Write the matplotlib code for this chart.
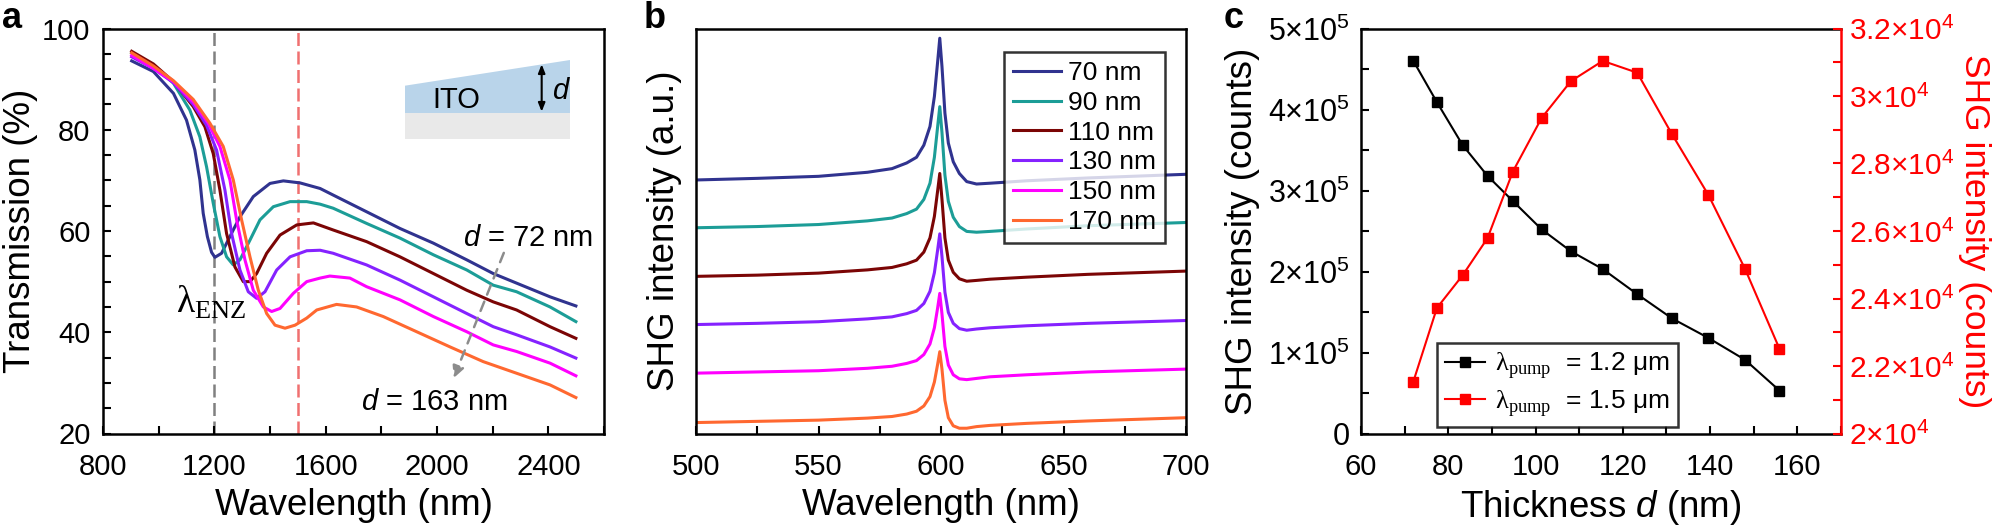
import matplotlib
matplotlib.use("Agg")
import matplotlib.pyplot as plt
from matplotlib.ticker import MultipleLocator, FuncFormatter
from matplotlib.patches import Polygon, Rectangle

plt.rcParams['font.family'] = ['Liberation Sans', 'DejaVu Sans']
plt.rcParams['mathtext.fontset'] = 'custom'
plt.rcParams['mathtext.rm'] = 'Liberation Serif'
plt.rcParams['mathtext.it'] = 'Liberation Sans:italic'
plt.rcParams['mathtext.default'] = 'regular'

# ---------------- data: panel a (transmission) ----------------
a_labels = ['72 nm', '90 nm', '110 nm', '130 nm', '150 nm', '163 nm']
a_x1 = [903, 981, 1053, 1100, 1130, 1148, 1160, 1175, 1190, 1202, 1226, 1256, 1292, 1340, 1400, 1448,
        1508, 1580, 1627, 1747, 1867, 1987, 2107, 2202, 2286, 2406, 2499]
a_y1 = [93.6, 91.5, 87.2, 81.9, 76.0, 70.1, 63.5, 58.9, 55.8, 54.8, 55.6, 58.9, 62.8, 66.8, 69.4, 69.9,
        69.5, 68.4, 67.1, 63.8, 60.5, 57.6, 54.3, 51.6, 49.7, 47.0, 45.2]
a_x2 = [903, 981, 1053, 1112, 1148, 1172, 1196, 1220, 1244, 1268, 1292, 1328, 1364, 1412, 1472, 1532,
        1580, 1627, 1747, 1867, 1987, 2107, 2202, 2286, 2406, 2499]
a_y2 = [95.2, 92.8, 89.2, 83.9, 78.6, 72.7, 65.5, 58.9, 54.9, 53.3, 54.3, 58.2, 62.2, 64.8, 65.8, 65.8,
        65.3, 64.5, 61.5, 58.6, 55.3, 52.3, 49.3, 48.0, 45.0, 42.1]
a_x3 = [903, 981, 1053, 1124, 1166, 1196, 1220, 1244, 1274, 1304, 1328, 1352, 1388, 1436, 1496, 1556,
        1627, 1747, 1867, 1987, 2107, 2202, 2286, 2406, 2499]
a_y3 = [95.5, 93.0, 89.5, 84.6, 80.6, 75.3, 68.1, 59.5, 52.9, 50.0, 50.0, 51.6, 55.6, 59.2, 61.2, 61.6,
        60.2, 57.9, 54.9, 51.6, 48.3, 46.0, 44.4, 41.1, 38.8]
a_x4 = [903, 981, 1053, 1124, 1172, 1208, 1238, 1262, 1292, 1322, 1352, 1382, 1424, 1472, 1532, 1580,
        1627, 1747, 1867, 1987, 2107, 2202, 2286, 2406, 2499]
a_y4 = [94.4, 92.1, 89.3, 85.0, 80.9, 76.0, 68.1, 59.5, 52.3, 48.0, 46.7, 48.0, 52.3, 54.9, 56.1, 56.2,
        55.6, 53.3, 50.3, 47.0, 43.7, 41.1, 39.5, 37.1, 34.9]
a_x5 = [903, 981, 1053, 1124, 1178, 1220, 1256, 1280, 1310, 1340, 1376, 1406, 1436, 1484, 1532, 1580,
        1615, 1687, 1747, 1867, 1987, 2107, 2202, 2286, 2406, 2499]
a_y5 = [94.7, 92.1, 89.5, 85.5, 81.3, 76.7, 70.1, 62.2, 54.3, 48.3, 45.0, 44.1, 44.7, 47.7, 50.0, 50.7,
        51.1, 50.7, 49.0, 46.4, 43.1, 40.1, 37.5, 36.2, 33.9, 31.4]
a_x6 = [903, 981, 1053, 1124, 1184, 1232, 1268, 1298, 1328, 1358, 1388, 1418, 1454, 1490, 1532, 1568,
        1639, 1711, 1807, 1927, 2047, 2166, 2286, 2406, 2499]
a_y6 = [95.2, 92.6, 89.7, 86.0, 81.3, 76.7, 70.1, 62.2, 54.9, 48.3, 43.7, 41.4, 40.8, 41.4, 42.8, 44.4,
        45.5, 45.0, 43.1, 40.1, 37.1, 34.2, 31.9, 29.6, 27.1]
lambda_enz = 1200
lambda_pump2 = 1500

# ---------------- data: panel b (SHG spectra, offset) ----------------
b_labels = ['70 nm', '90 nm', '110 nm', '130 nm', '150 nm', '170 nm']
b_wl = [500, 525, 550, 570, 580, 586, 590, 593, 595.5, 597.3, 598.6, 599.5, 600.4, 601.6, 603, 605,
        607.5, 610.5, 614.5, 620, 635, 660, 700]
b_70 = [62.6, 63.0, 63.5, 64.5, 65.4, 66.8, 68.2, 71.2, 75.8, 83.2, 91.6, 97.6, 90.6, 79.1, 71.7, 67.1,
        64.2, 62.2, 61.6, 61.8, 62.4, 63.1, 64.0]
b_90 = [50.8, 51.1, 51.6, 52.5, 53.2, 54.3, 55.4, 57.8, 61.8, 68.2, 75.6, 80.7, 74.3, 63.8, 57.3, 53.4,
        51.1, 49.9, 49.7, 49.9, 50.5, 51.3, 52.1]
b_110 = [38.8, 39.1, 39.6, 40.4, 41.0, 41.9, 42.8, 44.8, 48.3, 53.6, 59.8, 64.2, 57.8, 48.3, 42.8, 39.8,
         38.2, 37.6, 37.8, 38.1, 38.6, 39.3, 40.1]
b_130 = [26.9, 27.2, 27.6, 28.3, 28.8, 29.6, 30.4, 32.1, 35.1, 39.7, 45.2, 49.3, 43.7, 34.9, 29.9, 27.2,
         25.9, 25.5, 25.8, 26.1, 26.6, 27.2, 27.9]
b_150 = [14.9, 15.2, 15.5, 16.1, 16.6, 17.3, 18.0, 19.5, 22.1, 26.1, 30.9, 34.6, 29.5, 21.5, 16.9, 14.5,
         13.5, 13.3, 13.6, 14.0, 14.5, 15.2, 15.9]
b_170 = [2.7, 3.0, 3.3, 3.8, 4.2, 4.8, 5.5, 6.8, 9.1, 12.7, 17.0, 20.2, 15.9, 8.2, 3.9, 1.9,
         1.3, 1.3, 1.7, 2.0, 2.5, 3.1, 3.9]

# ---------------- data: panel c (SHG vs thickness) ----------------
c_thick = [72, 77.4, 83.3, 89.0, 94.8, 101.4, 108.1, 115.4, 123.3, 131.3, 139.6, 148.0, 155.9]
c_shg12 = [4.60e5, 4.09e5, 3.56e5, 3.18e5, 2.87e5, 2.52e5, 2.25e5, 2.03e5, 1.72e5, 1.42e5, 1.18e5,
           0.91e5, 0.53e5]
c_shg15 = [2.154e4, 2.372e4, 2.469e4, 2.579e4, 2.776e4, 2.935e4, 3.044e4, 3.104e4, 3.069e4, 2.886e4,
           2.707e4, 2.488e4, 2.251e4]
c_labels = [r'$\mathrm{\lambda}_{\mathrm{pump}}$  = 1.2 μm', r'$\mathrm{\lambda}_{\mathrm{pump}}$  = 1.5 μm']

colors = ['#30338f', '#1c9d97', '#7b0505', '#8522ff', '#ff00ff', '#ff6830']

TICK_FS = 21
LABEL_FS = 26.5
LW_SPINE = 1.8

fig = plt.figure(figsize=(19.95, 5.25), dpi=100)
H0 = 525.0
W0 = 1995.0
def rect(x0, x1, y0=28.5, y1=433.5):
    return [x0 / W0, (H0 - y1) / H0, (x1 - x0) / W0, (y1 - y0) / H0]

axa = fig.add_axes(rect(103, 604))
axb = fig.add_axes(rect(696, 1186))
axc = fig.add_axes(rect(1361, 1841))

def style(ax, xpad=14, ypad=9, fs=TICK_FS):
    for s in ax.spines.values():
        s.set_linewidth(LW_SPINE)
    ax.tick_params(which='both', direction='in', width=1.5, labelsize=fs)
    ax.tick_params(which='major', length=6)
    ax.tick_params(which='minor', length=6)
    ax.tick_params(axis='x', pad=xpad)
    ax.tick_params(axis='y', pad=ypad)

# ---------- panel a ----------
style(axa)
ax_series = [(a_x1, a_y1), (a_x2, a_y2), (a_x3, a_y3), (a_x4, a_y4), (a_x5, a_y5), (a_x6, a_y6)]
for (xs, ys), c in zip(ax_series, colors):
    axa.plot(xs, ys, color=c, lw=2.2)
axa.axvline(lambda_enz, color='#808080', lw=1.8, ls=(0, (5.2, 2.2)), zorder=0)
axa.axvline(lambda_pump2, color='#f07070', lw=1.8, ls=(0, (5.2, 2.2)), zorder=0)
axa.set_xlim(800, 2600)
axa.set_ylim(20, 100)
axa.xaxis.set_major_locator(MultipleLocator(400))
axa.xaxis.set_minor_locator(MultipleLocator(200))
axa.yaxis.set_major_locator(MultipleLocator(20))
axa.yaxis.set_minor_locator(MultipleLocator(5))
axa.set_xlabel('Wavelength (nm)', fontsize=LABEL_FS, labelpad=5)
axa.set_ylabel('Transmission (%)', fontsize=LABEL_FS, labelpad=3)
axa.text(0.146, 0.2975, r'$\mathrm{\lambda}_{\mathrm{ENZ}}$', transform=axa.transAxes, fontsize=27,
         ha='left', va='baseline')
axa.text(0.978, 0.463, r'$\mathit{d}$ = 72 nm', transform=axa.transAxes, fontsize=21,
         ha='right', va='baseline')
axa.text(0.515, 0.058, r'$\mathit{d}$ = 163 nm', transform=axa.transAxes, fontsize=21,
         ha='left', va='baseline')
axa.annotate('', xy=(0.700, 0.137), xytext=(0.800, 0.446), xycoords='axes fraction',
             arrowprops=dict(arrowstyle='-|>,head_length=0.7,head_width=0.35', color='#8c8c8c',
                             lw=1.8, ls=(0, (4, 3)), shrinkA=0, shrinkB=0))
# ITO schematic
axa.add_patch(Polygon([(0.6028, 0.7906), (0.9321, 0.7906), (0.9321, 0.9222), (0.6028, 0.8588)],
                      closed=True, transform=axa.transAxes, facecolor='#b9d4ea', edgecolor='none'))
axa.add_patch(Rectangle((0.6028, 0.7264), 0.3293, 0.0642, transform=axa.transAxes,
                        facecolor='#e9e9e9', edgecolor='none'))
axa.text(0.7046, 0.823, 'ITO', transform=axa.transAxes, fontsize=21, ha='center', va='center')
axa.annotate('', xy=(0.8756, 0.7946), xytext=(0.8756, 0.9116), xycoords='axes fraction',
             arrowprops=dict(arrowstyle='<|-|>,head_length=0.5,head_width=0.2', color='black', lw=1.5,
                             shrinkA=0, shrinkB=0))
axa.text(0.8956, 0.845, r'$\mathit{d}$', transform=axa.transAxes, fontsize=21, ha='left', va='center')

# ---------- panel b ----------
style(axb)
b_series = [b_70, b_90, b_110, b_130, b_150, b_170]
for ys, c, lab in zip(b_series, colors, b_labels):
    axb.plot(b_wl, ys, color=c, lw=2.2, label=lab)
axb.set_xlim(500, 700)
axb.set_ylim(0, 100)
axb.xaxis.set_major_locator(MultipleLocator(50))
axb.xaxis.set_minor_locator(MultipleLocator(25))
axb.set_yticks([])
axb.set_xlabel('Wavelength (nm)', fontsize=LABEL_FS, labelpad=5)
axb.set_ylabel('SHG intensity (a.u.)', fontsize=LABEL_FS, labelpad=10)
legb = axb.legend(loc='upper right', bbox_to_anchor=(0.957, 0.942), borderaxespad=0, fontsize=19,
                  handlelength=1.82, handletextpad=0.27, labelspacing=0.22, borderpad=0.34,
                  frameon=True, fancybox=False, edgecolor='black')
legb.get_frame().set_linewidth(1.8)

# ---------- panel c ----------
style(axc, ypad=8, fs=22)
axc.spines['right'].set_visible(False)
ax2 = axc.twinx()
ax2.set_position(rect(1361, 1841))
l1, = axc.plot(c_thick, c_shg12, color='black', lw=1.5, marker='s', ms=7.5)
l2, = ax2.plot(c_thick, c_shg15, color='#ff0000', lw=1.5, marker='s', ms=7.5)
axc.set_xlim(60, 170)
axc.set_ylim(0, 5e5)
axc.xaxis.set_major_locator(MultipleLocator(20))
axc.xaxis.set_minor_locator(MultipleLocator(10))
axc.yaxis.set_major_locator(MultipleLocator(1e5))
axc.yaxis.set_minor_locator(MultipleLocator(0.5e5))
axc.tick_params(axis='x', labelsize=TICK_FS)

def fmt_left(v, pos):
    n = int(round(v / 1e5))
    if n == 0:
        return '0'
    return r'$%d{\times}10^{5}$' % n
axc.yaxis.set_major_formatter(FuncFormatter(fmt_left))

ax2.set_ylim(2e4, 3.2e4)
ax2.yaxis.set_major_locator(MultipleLocator(0.2e4))
ax2.yaxis.set_minor_locator(MultipleLocator(0.1e4))

def fmt_right(v, pos):
    m = v / 1e4
    s = ('%.1f' % m).rstrip('0').rstrip('.')
    return r'$%s{\times}10^{4}$' % s
ax2.yaxis.set_major_formatter(FuncFormatter(fmt_right))
for s in ax2.spines.values():
    s.set_linewidth(LW_SPINE)
ax2.spines['right'].set_color('#ff0000')
ax2.spines['left'].set_visible(False)
ax2.spines['top'].set_visible(False)
ax2.spines['bottom'].set_visible(False)
ax2.tick_params(which='both', direction='in', width=1.5, length=6, labelsize=21.5,
                colors='#ff0000', pad=5.5)
axc.set_xlabel(r'Thickness $\mathit{d}$ (nm)', fontsize=LABEL_FS, labelpad=5)
axc.set_ylabel('SHG intensity (counts)', fontsize=LABEL_FS, labelpad=6)
fig.text(1975 / W0, 1 - 231 / H0, 'SHG intensity (counts)', fontsize=25.5, color='#ff0000',
         rotation=270, ha='center', va='center')
legc = axc.legend([l1, l2], c_labels, loc='lower left', bbox_to_anchor=(0.159, 0.0168),
                  borderaxespad=0, fontsize=19, handlelength=1.5, handletextpad=0.4,
                  labelspacing=0.25, borderpad=0.3, frameon=True, fancybox=False, edgecolor='black')
legc.get_frame().set_linewidth(1.8)
legc.set_zorder(5)

# panel letters
fig.text(2 / W0, 1 - 28 / H0, 'a', fontsize=26, fontweight='bold', ha='left', va='baseline')
fig.text(644 / W0, 1 - 28 / H0, 'b', fontsize=26, fontweight='bold', ha='left', va='baseline')
fig.text(1224 / W0, 1 - 28 / H0, 'c', fontsize=26, fontweight='bold', ha='left', va='baseline')

fig.savefig('out.png', dpi=100)
